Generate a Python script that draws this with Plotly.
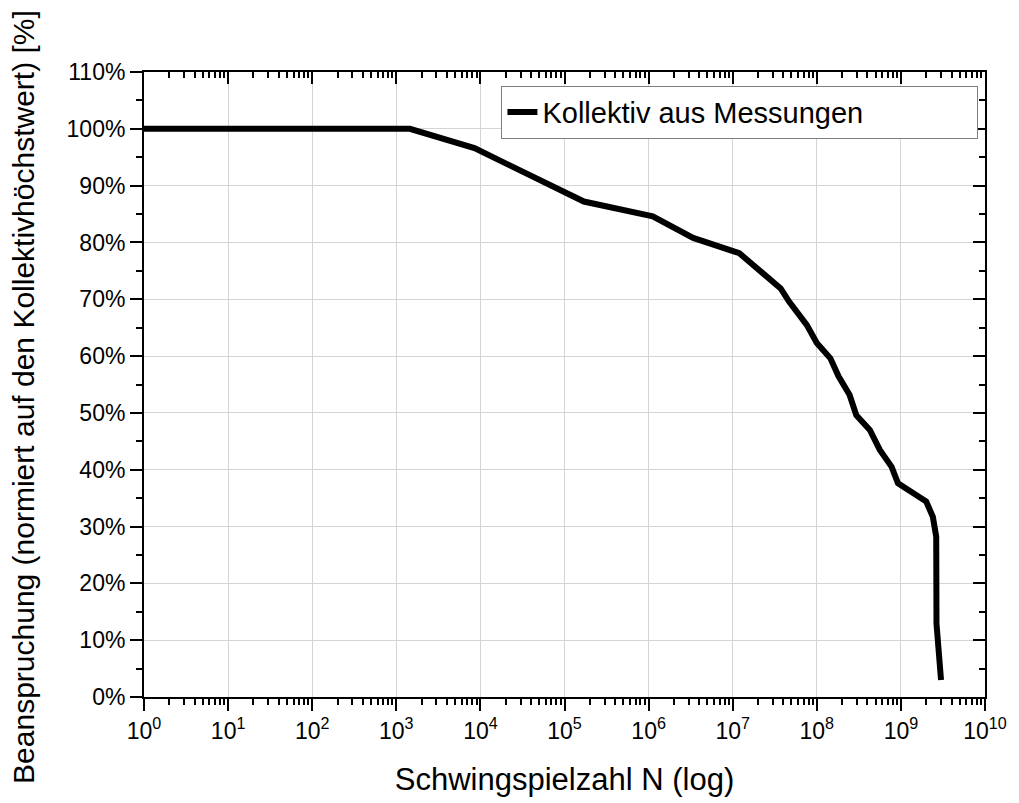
import plotly.graph_objects as go

# Load spectrum: cycles N vs. stress normalised to the spectrum maximum
cycles = [1, 1.45e3, 8.5e3, 1.70e5, 1.12e6, 3.39e6, 1.20e7, 3.72e7, 4.68e7,
          7.59e7, 1.0e8, 1.45e8, 1.82e8, 2.45e8, 2.95e8, 4.27e8, 5.62e8,
          7.76e8, 9.23e8, 1.15e9, 2.0e9, 2.40e9, 2.63e9, 2.65e9, 2.79e9, 3.0e9]
stress_pct = [100, 100, 96.6, 87.2, 84.6, 80.8, 78.1, 71.9, 69.6,
              65.5, 62.3, 59.6, 56.4, 53.2, 49.6, 47.0, 43.5,
              40.5, 37.6, 36.7, 34.4, 31.7, 28.2, 12.9, 8.3, 3.0]

series_name = "Kollektiv aus Messungen"
x_title = "Schwingspielzahl N (log)"
y_title = "Beanspruchung (normiert auf den Kollektivhöchstwert) [%]"

decades = list(range(0, 11))
x_tickvals = [10 ** k for k in decades]
x_ticktext = [f"10<sup>{k}</sup>" for k in decades]
x_minor = [m * 10 ** k for k in decades[:-1] for m in range(2, 10)]

FONT = "Liberation Sans, Arial, sans-serif"
TICK_FONT = dict(family=FONT, size=23, color="black")

fig = go.Figure()
fig.add_trace(go.Scatter(
    x=cycles, y=stress_pct, mode="lines", name=series_name,
    line=dict(color="black", width=6),
))
# empty trace so the mirrored top/right frame axes get drawn
fig.add_trace(go.Scatter(
    x=[], y=[], xaxis="x2", yaxis="y2", mode="lines",
    showlegend=False, hoverinfo="skip",
))

common_x = dict(
    type="log", range=[0, 10], tickmode="array", tickvals=x_tickvals,
    showline=True, linecolor="black", linewidth=2,
    tickwidth=2, tickcolor="black", ticklen=12,
)
common_y = dict(
    range=[0, 110], tickmode="linear", tick0=0, dtick=10,
    showline=True, linecolor="black", linewidth=2,
    tickwidth=2, tickcolor="black", ticklen=12,
)

fig.update_layout(
    width=1019, height=803,
    margin=dict(l=144, r=28, t=72, b=106),
    paper_bgcolor="white", plot_bgcolor="white",
    font=dict(family=FONT, color="black"),
    showlegend=True,
    legend=dict(
        x=0.425, y=0.978, xanchor="left", yanchor="top",
        orientation="h", entrywidth=430,
        bgcolor="white", bordercolor="#7f7f7f", borderwidth=1,
        font=dict(family=FONT, size=29, color="black"),
    ),
    xaxis=dict(
        **common_x, ticktext=x_ticktext, ticks="outside",
        showgrid=True, gridcolor="#d4d4d4", gridwidth=1,
        tickfont=TICK_FONT,
        minor=dict(tickmode="array", tickvals=x_minor, ticks="outside",
                   ticklen=6, tickwidth=2, tickcolor="black", showgrid=False),
        title=dict(text=x_title, font=dict(family=FONT, size=31), standoff=26),
    ),
    yaxis=dict(
        **common_y, ticks="outside", ticksuffix="%",
        showgrid=True, gridcolor="#d4d4d4", gridwidth=1,
        tickfont=TICK_FONT,
        minor=dict(tickmode="linear", tick0=0, dtick=5, ticks="outside",
                   ticklen=6, tickwidth=2, tickcolor="black", showgrid=False),
    ),
    xaxis2=dict(
        **common_x, overlaying="x", side="top", anchor="y2", ticks="inside",
        showticklabels=False, showgrid=False,
        minor=dict(tickmode="array", tickvals=x_minor, ticks="inside",
                   ticklen=6, tickwidth=2, tickcolor="black", showgrid=False),
    ),
    yaxis2=dict(
        **common_y, overlaying="y", side="right", anchor="x2", ticks="inside",
        showticklabels=False, showgrid=False,
        minor=dict(tickmode="linear", tick0=0, dtick=5, ticks="inside",
                   ticklen=6, tickwidth=2, tickcolor="black", showgrid=False),
    ),
    annotations=[dict(
        text=y_title, textangle=-90, xref="paper", yref="paper",
        x=-0.144, y=0.48, xanchor="center", yanchor="middle",
        showarrow=False, font=dict(family=FONT, size=30, color="black"),
    )],
)

fig.write_html("out.html")
